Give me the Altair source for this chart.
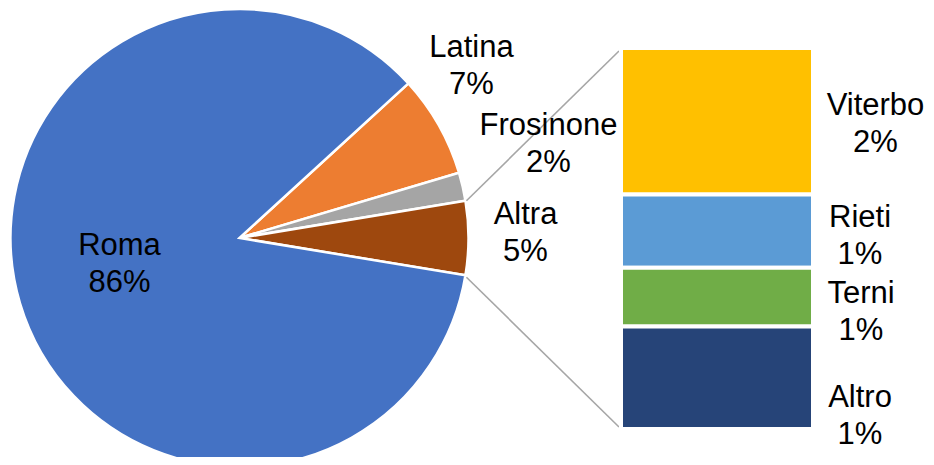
import math
import altair as alt
import pandas as pd

# ---- data ----
pie_names = ["Latina", "Frosinone", "Altra", "Roma"]
pie_values = [7.2, 2.0, 5.2, 85.6]
pie_pct = ["7%", "2%", "5%", "86%"]

bar_names = ["Viterbo", "Rieti", "Terni", "Altro"]
bar_values = [2.0, 1.0, 0.8, 1.4]
bar_pct = ["2%", "1%", "1%", "1%"]

# ---- styles / layout ----
pie_colors = ["#ED7D31", "#A5A5A5", "#9E480E", "#4472C4"]
bar_colors = ["#FFC000", "#5B9BD5", "#70AD47", "#264478"]
W, H = 918, 449
CX, CY, R = 231.5, 230, 229
BX0, BX1 = 615, 803
BY0, BY1 = 42, 419
FONT = "Liberation Sans"
FS = 31
LH = 37
label_pos = {
    "Roma": (111.5, 247), "Latina": (463.5, 49), "Frosinone": (540.5, 127),
    "Altra": (517.5, 216), "Viterbo": (867.5, 107), "Rieti": (852, 219),
    "Terni": (853, 295), "Altro": (852, 399),
}

total_pie = sum(pie_values)
split_idx = pie_names.index("Altra")
before = sum(pie_values[:split_idx])
# the split-off slice is centred at 3 o'clock
a0 = math.pi / 2 - (before + pie_values[split_idx] / 2) / total_pie * 2 * math.pi

pie_df = pd.DataFrame({
    "name": pie_names, "value": pie_values, "idx": list(range(len(pie_names))),
    "color": pie_colors,
})

pie = alt.Chart(pie_df).mark_arc(stroke="white", strokeWidth=2.5, radius=R).encode(
    theta=alt.Theta("value:Q", stack=True,
                    scale=alt.Scale(domain=[0, total_pie], range=[a0, a0 + 2 * math.pi])),
    color=alt.Color("color:N", scale=None),
    order=alt.Order("idx:Q"),
    x=alt.value(CX), y=alt.value(CY),
)

total_bar = sum(bar_values)
y0s, y1s, acc = [], [], 0.0
for v in bar_values:
    y0s.append(acc)
    acc += v
    y1s.append(acc)
bar_df = pd.DataFrame({"name": bar_names, "y0": y0s, "y1": y1s, "color": bar_colors})

bars = alt.Chart(bar_df).mark_bar(stroke="white", strokeWidth=4).encode(
    x=alt.value(BX0 - 2), x2=alt.value(BX1 + 2),
    y=alt.Y("y0:Q", scale=alt.Scale(domain=[0, total_bar], range=[BY0 - 2, BY1 + 2]), axis=None),
    y2="y1:Q",
    color=alt.Color("color:N", scale=None),
)

# connector lines from the split slice edges to the bar corners
a_top = a0 + before / total_pie * 2 * math.pi
a_bot = a0 + (before + pie_values[split_idx]) / total_pie * 2 * math.pi
pt_top = (CX + R * math.sin(a_top), CY - R * math.cos(a_top))
pt_bot = (CX + R * math.sin(a_bot), CY - R * math.cos(a_bot))
one = pd.DataFrame({"a": [0]})
line_top = alt.Chart(one).mark_rule(color="#A6A6A6", strokeWidth=1.6).encode(
    x=alt.value(pt_top[0] + 1), y=alt.value(pt_top[1]), x2=alt.value(BX0 - 4), y2=alt.value(BY0 + 1))
line_bot = alt.Chart(one).mark_rule(color="#A6A6A6", strokeWidth=1.6).encode(
    x=alt.value(pt_bot[0] + 1), y=alt.value(pt_bot[1] + 2), x2=alt.value(BX0 - 4), y2=alt.value(BY1))

layers = [pie, line_top, line_bot, bars]
for names, pcts in ((pie_names, pie_pct), (bar_names, bar_pct)):
    for n, p in zip(names, pcts):
        lx, ly = label_pos[n]
        d = pd.DataFrame({"txt": [n + "\n" + p]})
        layers.append(
            alt.Chart(d).mark_text(
                x=lx, y=ly, align="center", baseline="alphabetic", font=FONT,
                fontSize=FS, lineHeight=LH, lineBreak="\n", color="#000000",
            ).encode(text="txt:N")
        )

chart = alt.layer(*layers).properties(
    width=W, height=H, padding=0, autosize=alt.AutoSizeParams(type="none"),
    background="white",
).configure_view(stroke=None)

chart.save("out.html", embed_options={"renderer": "svg", "actions": False})
